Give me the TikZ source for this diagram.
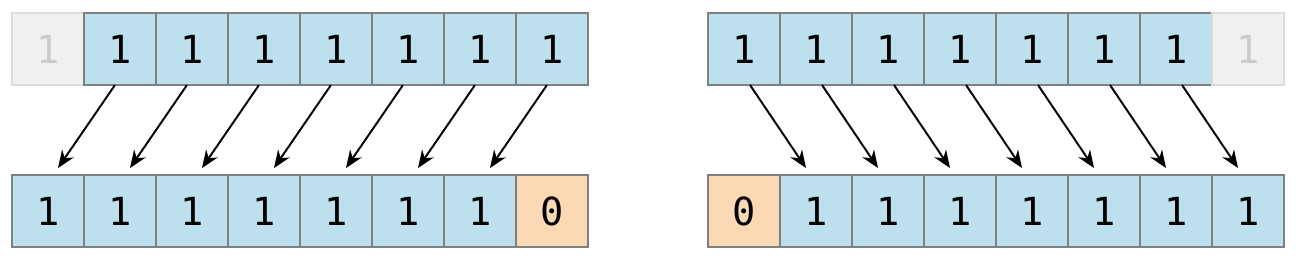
\documentclass[tikz,border=0pt]{standalone}
\usepackage{fontspec}
\setmonofont{DejaVu Sans Mono}
\usetikzlibrary{arrows.meta}
\definecolor{cellblue}{HTML}{BCE0EE}
\definecolor{cellorange}{HTML}{FBD9B5}
\definecolor{cellgray}{HTML}{F0F0F0}
\definecolor{edgegray}{HTML}{808080}
\definecolor{edgelight}{HTML}{DCDCDC}
\definecolor{textlight}{HTML}{CCCCCC}
\tikzset{
  cell/.style={rectangle, minimum width=1.44cm, minimum height=1.44cm, inner sep=0pt, outer sep=0pt,
    line width=0.8pt, font=\ttfamily\fontsize{22}{22}\selectfont},
  bluecell/.style={cell, draw=edgegray, fill=cellblue},
  orangecell/.style={cell, draw=edgegray, fill=cellorange},
  ghostcell/.style={cell, draw=edgelight, fill=cellgray, text=textlight},
  shiftarrow/.style={line width=1.1pt, -{Stealth[length=10pt,width=8pt]}}
}
\begin{document}
\begin{tikzpicture}[x=0.02cm,y=-0.02cm]
\useasboundingbox (0,0) rectangle (1298,260);
% left group
\node[ghostcell] (lt0) at (48,49) {1};
\foreach \i in {1,...,7} {
  \node[bluecell] (lt\i) at ({48+72*\i},49) {1};
}
\foreach \i in {0,...,6} {
  \node[bluecell] (lb\i) at ({48+72*\i},211) {1};
}
\node[orangecell] (lb7) at (552,211) {0};
\foreach \i [evaluate=\i as \j using int(\i-1)] in {1,...,7} {
  \draw[shiftarrow] ([xshift=-0.1cm]lt\i.south) -- ([xshift=0.2cm,yshift=0.14cm]lb\j.north);
}
% right group
\foreach \i in {0,...,6} {
  \node[bluecell] (rt\i) at ({744+72*\i},49) {1};
}
\node[ghostcell] (rt7) at (1248,49) {1};
\node[orangecell] (rb0) at (744,211) {0};
\foreach \i in {1,...,7} {
  \node[bluecell] (rb\i) at ({744+72*\i},211) {1};
}
\foreach \i [evaluate=\i as \j using int(\i+1)] in {0,...,6} {
  \draw[shiftarrow] ([xshift=0.12cm]rt\i.south) -- ([xshift=-0.2cm,yshift=0.14cm]rb\j.north);
}
\end{tikzpicture}
\end{document}
